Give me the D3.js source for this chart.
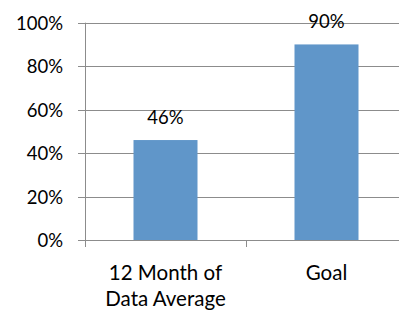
<!DOCTYPE html>
<html>
  <head>
    <script src="https://d3js.org/d3.v7.min.js"></script>
    <meta charset="utf-8">
    <style>
    body {
      margin: 0;
      background: #fff;
    }
    svg text {
      font-family: Lato, "Open Sans", sans-serif;
      fill: #000;
    }
  </style>
  </head>
  <body>
    <div id="chart"></div>
    <script>
    // chart data
    var categories = [["12 Month of", "Data Average"], ["Goal"]];
    var values = [0.46, 0.90];
    var tickValues = [0, 0.2, 0.4, 0.6, 0.8, 1.0];

    var width = 399, height = 311;
    var plotLeft = 85, plotTop = 22.7, plotBottom = 240, plotRight = 407;

    var svg = d3.select("#chart").append("svg")
      .attr("width", width)
      .attr("height", height);

    var bandW = (plotRight - plotLeft) / values.length;
    var barW = 64;

    var y = d3.scaleLinear()
      .domain([0, 1])
      .range([plotBottom, plotTop]);

    var cx = function (d, i) { return plotLeft + bandW * (i + 0.5); };

    // gridlines
    svg.append("g")
      .selectAll("line")
      .data(tickValues)
      .enter().append("line")
        .attr("x1", plotLeft - 7)
        .attr("x2", plotRight)
        .attr("y1", function (d) { return Math.round(y(d)) + 0.5; })
        .attr("y2", function (d) { return Math.round(y(d)) + 0.5; })
        .attr("stroke", "#8c8c8c")
        .attr("stroke-width", 1);

    // y axis labels
    svg.append("g")
      .selectAll("text")
      .data(tickValues)
      .enter().append("text")
        .attr("x", 63)
        .attr("y", function (d) { return y(d) + 7; })
        .attr("text-anchor", "end")
        .style("font-size", "18.5px")
        .text(d3.format(".0%"));

    // axis line
    svg.append("line")
      .attr("x1", plotLeft + 0.5).attr("x2", plotLeft + 0.5)
      .attr("y1", plotTop).attr("y2", plotBottom + 7)
      .attr("stroke", "#8c8c8c");

    // category ticks
    var bandEdges = d3.range(values.length + 1).map(function (i) { return plotLeft + i * bandW; });
    svg.append("g")
      .selectAll("line")
      .data(bandEdges)
      .enter().append("line")
        .attr("x1", function (d) { return Math.round(d) + 0.5; })
        .attr("x2", function (d) { return Math.round(d) + 0.5; })
        .attr("y1", plotBottom)
        .attr("y2", plotBottom + 7)
        .attr("stroke", "#8c8c8c");

    // bars
    svg.append("g")
      .selectAll("rect")
      .data(values)
      .enter().append("rect")
        .attr("x", function (d, i) { return cx(d, i) - barW / 2; })
        .attr("y", function (d) { return y(d); })
        .attr("width", barW)
        .attr("height", function (d) { return plotBottom - y(d); })
        .attr("fill", "#6096c9");

    // value labels
    svg.append("g")
      .selectAll("text")
      .data(values)
      .enter().append("text")
        .attr("x", cx)
        .attr("y", function (d) { return y(d) - 16.5; })
        .attr("text-anchor", "middle")
        .style("font-size", "18.5px")
        .text(d3.format(".0%"));

    // category labels
    var cat = svg.append("g")
      .selectAll("text")
      .data(categories)
      .enter().append("text")
        .attr("x", cx)
        .attr("y", 280)
        .attr("text-anchor", "middle")
        .style("font-size", "20.5px");
    cat.selectAll("tspan")
      .data(function (d) { return d; })
      .enter().append("tspan")
        .attr("x", function () { return d3.select(this.parentNode).attr("x"); })
        .attr("dy", function (d, i) { return i === 0 ? 0 : 26; })
        .text(function (d) { return d; });
  </script>
  </body>
</html>
